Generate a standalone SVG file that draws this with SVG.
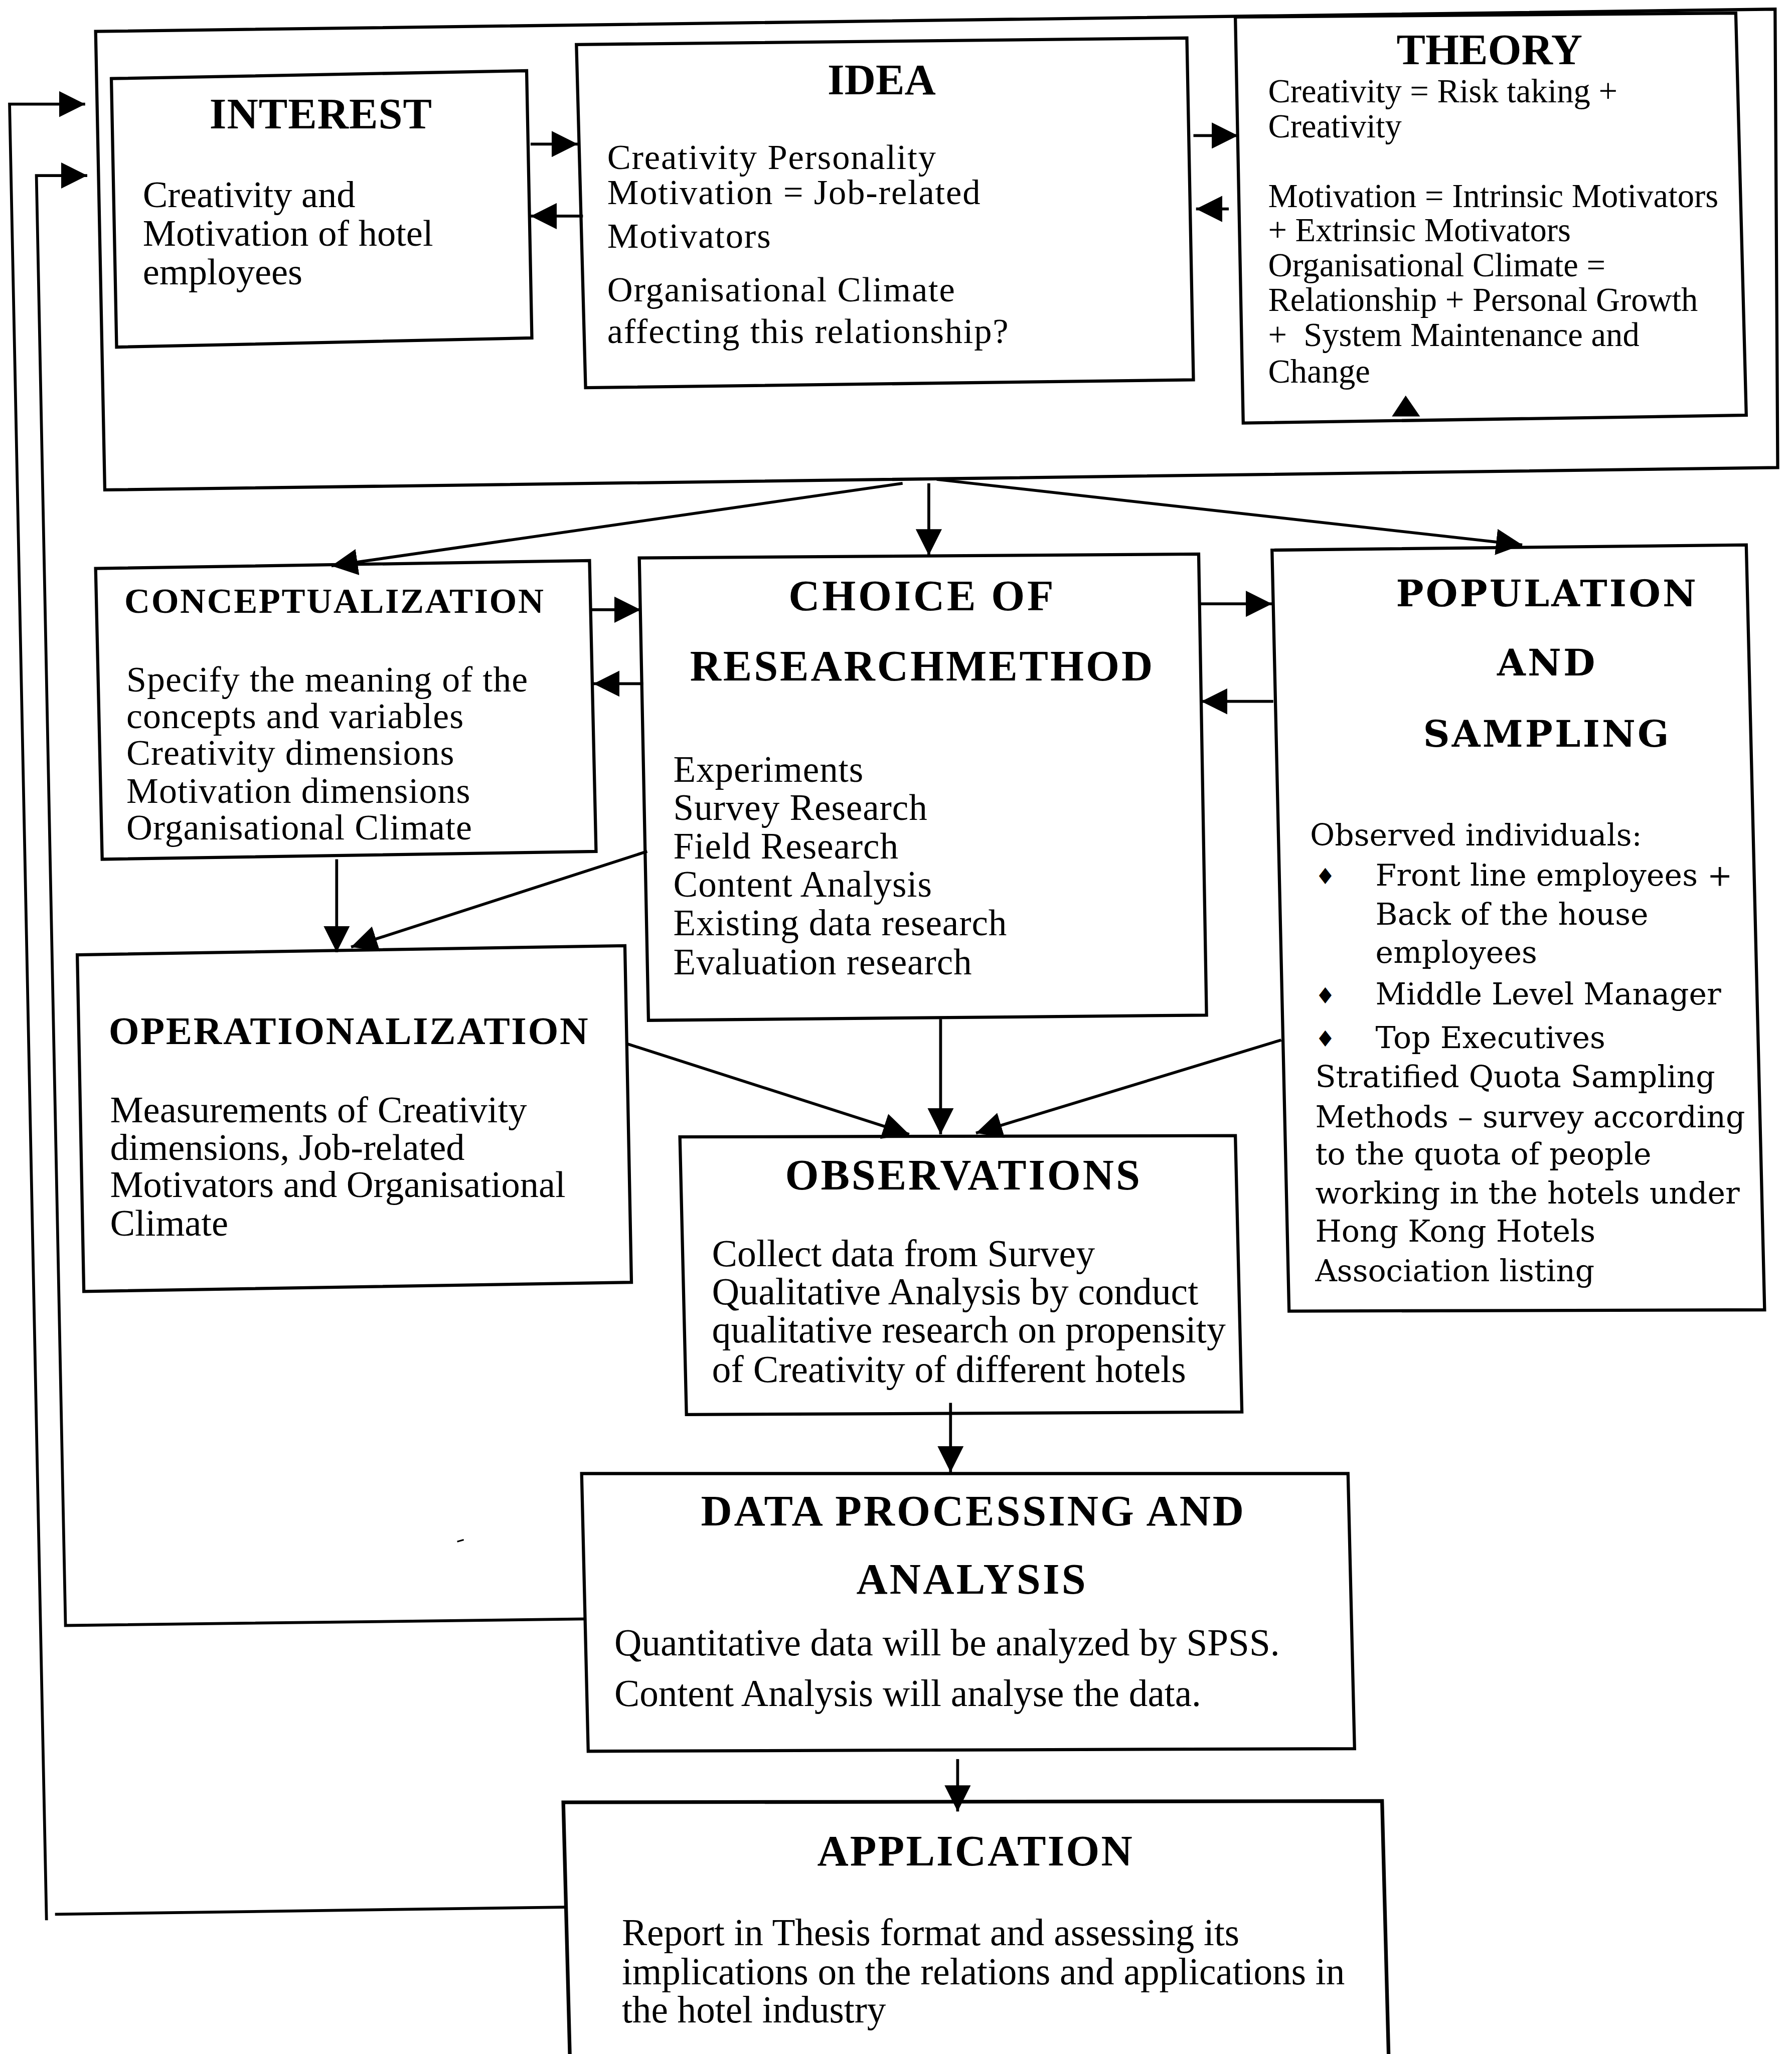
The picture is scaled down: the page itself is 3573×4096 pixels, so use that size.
<svg xmlns="http://www.w3.org/2000/svg" width="3573" height="4096" viewBox="0 0 3573 4096">
  <defs>
    <marker id="ah" viewBox="0 0 20 20" refX="20" refY="10" markerWidth="20" markerHeight="20" markerUnits="userSpaceOnUse" orient="auto">
      <path d="M0,0 L20,10 L0,20 z" fill="#000"/>
    </marker>
    <style>
      .box { fill: none; stroke: #000; stroke-width: 2.4; stroke-linejoin: miter; }
      .ln { fill: none; stroke: #000; stroke-width: 2.2; }
      .arr { fill: none; stroke: #000; stroke-width: 2.2; marker-end: url(#ah); }
      .h { font-family: "Liberation Serif", "Times New Roman", serif; font-weight: bold; font-size: 33px; fill: #000; }
      .c { text-anchor: middle; }
      .t { font-family: "Liberation Serif", "Times New Roman", serif; font-size: 28.5px; fill: #000; }
      .ti { font-size: 27px; letter-spacing: 0.7px; }
      .tm { font-size: 28px; letter-spacing: 0.35px; }
      .t29 { font-size: 29px; }
      .t288 { font-size: 28.8px; }
      .tc { font-size: 27.5px; letter-spacing: 0.4px; }
      .s { font-family: "Liberation Serif", "Times New Roman", serif; font-size: 25.5px; fill: #000; }
      .ph { font-family: "DejaVu Serif", serif; font-weight: bold; font-size: 28px; letter-spacing: 1.6px; fill: #000; text-anchor: middle; }
      .p { font-family: "DejaVu Serif", serif; font-size: 23px; fill: #000; }
      .b { font-family: "DejaVu Sans", sans-serif; font-size: 17px; fill: #000; }
    </style>
  </defs>
  <rect x="0" y="0" width="3573" height="4096" fill="#fff"/>
  <g transform="scale(2.612)">
    <!-- frame enclosing interest, idea and theory -->
    <g id="frame">
      <polygon class="box" points="73,24 1355,7 1357,357 80,374"/>
    </g>

    <g id="interest">
      <polygon class="box" points="85,60 402,54 406,258 89,265"/>
      <text class="h c" x="245" y="98" letter-spacing="0.4">INTEREST</text>
      <text class="t" x="109" y="158">Creativity and</text>
      <text class="t" x="109" y="187.5">Motivation of hotel</text>
      <text class="t" x="109" y="217">employees</text>
    </g>

    <g id="idea">
      <polygon class="box" points="440,34 906,29 911,290 447,296"/>
      <text class="h c" x="673" y="72">IDEA</text>
      <text class="t ti" x="463.5" y="129">Creativity Personality</text>
      <text class="t ti" x="463.5" y="156">Motivation = Job-related</text>
      <text class="t ti" x="463.5" y="189">Motivators</text>
      <text class="t ti" x="463.5" y="230">Organisational Climate</text>
      <text class="t ti" x="463.5" y="262">affecting this relationship?</text>
    </g>

    <g id="theory">
      <polygon class="box" points="943,13 1325,10 1333,317 949,323"/>
      <text class="h c" x="1137" y="49">THEORY</text>
      <text class="s" x="968" y="78">Creativity = Risk taking +</text>
      <text class="s" x="968" y="105">Creativity</text>
      <text class="s" x="968" y="158">Motivation = Intrinsic Motivators</text>
      <text class="s" x="968" y="184">+ Extrinsic Motivators</text>
      <text class="s" x="968" y="211">Organisational Climate =</text>
      <text class="s" x="968" y="237.5">Relationship + Personal Growth</text>
      <text class="s" x="968" y="264">+&#160; System Maintenance and</text>
      <text class="s" x="968" y="292">Change</text>
    </g>

    <g id="conceptualization">
      <polygon class="box" points="73,434 450,428 455,650 78,656"/>
      <text class="h" x="95" y="468" style="font-size:27px;letter-spacing:1px">CONCEPTUALIZATION</text>
      <text class="t tc" x="96.5" y="528">Specify the meaning of the</text>
      <text class="t tc" x="96.5" y="556">concepts and variables</text>
      <text class="t tc" x="96.5" y="584">Creativity dimensions</text>
      <text class="t tc" x="96.5" y="613">Motivation dimensions</text>
      <text class="t tc" x="96.5" y="641">Organisational Climate</text>
    </g>

    <g id="research-method">
      <polygon class="box" points="488,426 915,423 921,775 495,779"/>
      <text class="h c" x="704" y="466" letter-spacing="1.8">CHOICE OF</text>
      <text class="h c" x="704" y="519.5" letter-spacing="1.5">RESEARCHMETHOD</text>
      <text class="t tm" x="514" y="597">Experiments</text>
      <text class="t tm" x="514" y="626">Survey Research</text>
      <text class="t tm" x="514" y="655.5">Field Research</text>
      <text class="t tm" x="514" y="684.5">Content Analysis</text>
      <text class="t tm" x="514" y="714">Existing data research</text>
      <text class="t tm" x="514" y="744">Evaluation research</text>
    </g>

    <g id="population">
      <polygon class="box" points="971,420 1333,416 1347,1000 984,1001"/>
      <text class="ph" x="1181" y="463">POPULATION</text>
      <text class="ph" x="1181" y="515.7">AND</text>
      <text class="ph" x="1181" y="570">SAMPLING</text>
      <text class="p" x="1000" y="645.5">Observed individuals:</text>
      <text class="b" x="1004" y="675">♦</text>
      <text class="p" x="1050" y="676">Front line employees +</text>
      <text class="p" x="1050" y="706">Back of the house</text>
      <text class="p" x="1050" y="735">employees</text>
      <text class="b" x="1004" y="766">♦</text>
      <text class="p" x="1050" y="767">Middle Level Manager</text>
      <text class="b" x="1004" y="799">♦</text>
      <text class="p" x="1050" y="800">Top Executives</text>
      <text class="p" x="1004" y="830">Stratified Quota Sampling</text>
      <text class="p" x="1004" y="860.5">Methods – survey according</text>
      <text class="p" x="1004" y="889">to the quota of people</text>
      <text class="p" x="1004" y="919">working in the hotels under</text>
      <text class="p" x="1004" y="948">Hong Kong Hotels</text>
      <text class="p" x="1004" y="978">Association listing</text>
    </g>

    <g id="operationalization">
      <polygon class="box" points="59,729 477,722 482,979 64,986"/>
      <text class="h" x="83" y="797" style="font-size:30px;letter-spacing:1px">OPERATIONALIZATION</text>
      <text class="t" x="84" y="857">Measurements of Creativity</text>
      <text class="t" x="84" y="885.5">dimensions, Job-related</text>
      <text class="t" x="84" y="914">Motivators and Organisational</text>
      <text class="t" x="84" y="943.5">Climate</text>
    </g>

    <g id="observations">
      <polygon class="box" points="519,868 943,867 948,1078 524,1080"/>
      <text class="h c" x="735.5" y="908" letter-spacing="1.5">OBSERVATIONS</text>
      <text class="t t29" x="543.5" y="966.7">Collect data from Survey</text>
      <text class="t t29" x="543.5" y="995.8">Qualitative Analysis by conduct</text>
      <text class="t t29" x="543.5" y="1025">qualitative research on propensity</text>
      <text class="t t29" x="543.5" y="1055">of Creativity of different hotels</text>
    </g>

    <g id="data-processing">
      <polygon class="box" points="444,1125 1029,1125 1034,1335 449,1337"/>
      <text class="h c" x="743" y="1164.7" letter-spacing="1.5">DATA PROCESSING AND</text>
      <text class="h c" x="742" y="1216.6" letter-spacing="1.6">ANALYSIS</text>
      <text class="t t288" x="469" y="1263.7">Quantitative data will be analyzed by SPSS.</text>
      <text class="t t288" x="469" y="1302.6">Content Analysis will analyse the data.</text>
    </g>

    <g id="application">
      <path class="box" style="stroke-width:2.8px" d="M435,1570 L430,1376 L1055,1375 L1060,1570"/>
      <text class="h c" x="744.7" y="1424.3" letter-spacing="1.2">APPLICATION</text>
      <text class="t t288" x="474.7" y="1485">Report in Thesis format and assessing its</text>
      <text class="t t288" x="474.7" y="1515">implications on the relations and applications in</text>
      <text class="t t288" x="474.7" y="1544">the hotel industry</text>
    </g>

    <g id="connectors">
      <!-- top row, two-way links -->
      <line class="arr" x1="405" y1="110" x2="441" y2="110"/>
      <line class="arr" x1="445" y1="165" x2="405" y2="165"/>
      <line class="arr" x1="911" y1="103.5" x2="945" y2="103.5"/>
      <line class="arr" x1="938" y1="159.5" x2="913" y2="159.5"/>
      <polygon points="1073,302 1062.5,318 1084,318" fill="#000"/>
      <!-- fan out from the frame -->
      <line class="arr" x1="689" y1="369" x2="253" y2="432"/>
      <line class="arr" x1="709" y1="369" x2="709" y2="424"/>
      <line class="arr" x1="715" y1="366" x2="1162" y2="416"/>
      <!-- middle row, two-way links -->
      <line class="arr" x1="451" y1="465.5" x2="489" y2="465.5"/>
      <line class="arr" x1="491" y1="522" x2="453" y2="522"/>
      <line class="arr" x1="915" y1="461" x2="971" y2="461"/>
      <line class="arr" x1="972" y1="535.5" x2="917" y2="535.5"/>
      <!-- into operationalization -->
      <line class="arr" x1="257" y1="656" x2="257" y2="727"/>
      <line class="arr" x1="494" y1="650" x2="268" y2="723"/>
      <!-- into observations -->
      <line class="arr" x1="479" y1="797" x2="694" y2="866"/>
      <line class="arr" x1="718" y1="778" x2="718" y2="866"/>
      <line class="arr" x1="978" y1="794" x2="745" y2="865"/>
      <!-- down the main column -->
      <line class="arr" x1="725.6" y1="1071" x2="725.6" y2="1124"/>
      <line class="arr" x1="731" y1="1343" x2="731" y2="1383"/>
      <!-- feedback loops back to the start -->
      <polyline class="arr" points="447,1236 50,1241 27.8,134 66.6,134"/>
      <polyline class="ln" points="432,1456 42,1461.5"/>
      <polyline class="arr" points="35.5,1466 7.3,79.5 65,79.5"/>
      <line class="ln" x1="349" y1="1177" x2="354" y2="1175.5" style="stroke-width:1.2px"/>
    </g>
  </g>
</svg>
